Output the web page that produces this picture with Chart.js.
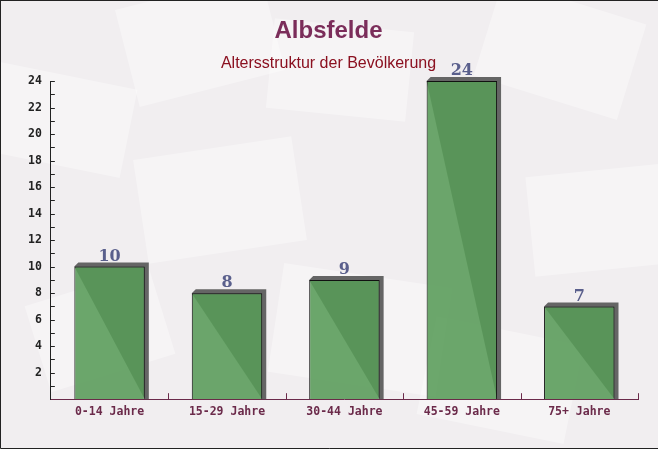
<!DOCTYPE html>
<html>
<head>
<meta charset="utf-8">
<script src="https://cdn.jsdelivr.net/npm/chart.js@4/dist/chart.umd.min.js"></script>
<style>
  html, body { margin: 0; padding: 0; background: #f2eff1; }
  #wrap { width: 658px; height: 449px; position: relative; }
</style>
</head>
<body>
<div id="wrap"><canvas id="chartAge" width="658" height="449"></canvas></div>
<script>
const ageGroups = ["0-14 Jahre", "15-29 Jahre", "30-44 Jahre", "45-59 Jahre", "75+ Jahre"];
const population = [10, 8, 9, 24, 7];
const yTickLabels = [2, 4, 6, 8, 10, 12, 14, 16, 18, 20, 22, 24];

const chartAgeElement = document.querySelector("#chartAge");

// faint envelope-ish background pattern + frame
const backgroundPlugin = {
  id: "backgroundPattern",
  beforeDraw(chart) {
    const ctx = chart.ctx;
    ctx.save();
    ctx.fillStyle = "#f1eef0";
    ctx.fillRect(0, 0, chart.width, chart.height);
    const shapes = [
      [200, 40, 150, 100, -0.25], [560, 50, 150, 100, 0.3], [60, 120, 140, 90, 0.2],
      [220, 200, 160, 105, -0.15], [600, 220, 140, 100, -0.1], [360, 330, 170, 110, 0.15],
      [100, 330, 130, 90, -0.3], [500, 380, 150, 100, 0.2], [340, 70, 140, 90, 0.1]
    ];
    ctx.fillStyle = "rgba(255,255,255,0.35)";
    shapes.forEach(([x, y, w, h, a]) => {
      ctx.save();
      ctx.translate(x, y);
      ctx.rotate(a);
      ctx.fillRect(-w / 2, -h / 2, w, h);
      ctx.restore();
    });
    ctx.restore();
  },
  afterDraw(chart) {
    const ctx = chart.ctx;
    ctx.save();
    ctx.strokeStyle = "#222";
    ctx.lineWidth = 1;
    ctx.beginPath();
    ctx.moveTo(0.5, 0);
    ctx.lineTo(0.5, chart.height - 0.5);
    ctx.lineTo(chart.width, chart.height - 0.5);
    ctx.moveTo(0, 0.5);
    ctx.lineTo(chart.width, 0.5);
    ctx.stroke();
    ctx.restore();
  }
};

// 3D shadow behind each bar, value labels above
const barShadowPlugin = {
  id: "barShadow",
  beforeDatasetsDraw(chart) {
    const ctx = chart.ctx;
    const meta = chart.getDatasetMeta(0);
    ctx.save();
    ctx.fillStyle = "rgba(85,85,85,0.9)";
    meta.data.forEach((bar) => {
      const half = bar.width / 2;
      const d = 4;
      ctx.beginPath();
      ctx.moveTo(bar.x - half, bar.y);
      ctx.lineTo(bar.x - half + d, bar.y - d);
      ctx.lineTo(bar.x + half + d, bar.y - d);
      ctx.lineTo(bar.x + half + d, bar.base);
      ctx.lineTo(bar.x + half, bar.base);
      ctx.closePath();
      ctx.fill();
    });
    ctx.restore();
  },
  afterDatasetsDraw(chart) {
    const ctx = chart.ctx;
    const meta = chart.getDatasetMeta(0);
    ctx.save();
    ctx.font = "bold 16px 'DejaVu Serif'";
    ctx.fillStyle = "#5a5f8c";
    ctx.textAlign = "center";
    ctx.textBaseline = "bottom";
    meta.data.forEach((bar, i) => {
      ctx.fillText(population[i], bar.x, bar.y - 2);
    });
    ctx.restore();
  }
};

// inward ticks on both axes
const innerTicksPlugin = {
  id: "innerTicks",
  afterDraw(chart) {
    const ctx = chart.ctx;
    const area = chart.chartArea;
    const y = chart.scales.y;
    const x = chart.scales.x;
    ctx.save();
    ctx.lineWidth = 1;
    ctx.strokeStyle = "#222";
    ctx.beginPath();
    for (let v = 1; v <= 24; v++) {
      const py = Math.round(y.getPixelForValue(v)) + 0.5;
      ctx.moveTo(area.left, py);
      ctx.lineTo(area.left + 4, py);
    }
    ctx.stroke();
    ctx.strokeStyle = "#6b2a4a";
    ctx.beginPath();
    for (let i = 0; i < ageGroups.length; i++) {
      const next = i < ageGroups.length - 1
        ? x.getPixelForValue(i + 1)
        : 2 * x.getPixelForValue(i) - x.getPixelForValue(i - 1);
      const px = Math.round((x.getPixelForValue(i) + next) / 2) + 0.5;
      ctx.moveTo(px, area.bottom);
      ctx.lineTo(px, area.bottom - 6);
    }
    ctx.stroke();
    ctx.restore();
  }
};

const chartAge = new Chart(chartAgeElement, {
  type: "bar",
  data: {
    labels: ageGroups,
    datasets: [
      {
        label: "Einwohner",
        data: population,
        backgroundColor: "rgba(88,155,88,0.88)",
        borderColor: "#111",
        borderWidth: 1,
        borderSkipped: "bottom",
        barPercentage: 0.6,
        categoryPercentage: 1,
      },
    ],
  },
  options: {
    responsive: false,
    animation: false,
    layout: {
      padding: { left: 19, right: 20, top: 0, bottom: 24 },
    },
    plugins: {
      legend: { display: false },
      tooltip: { enabled: false },
      title: {
        display: true,
        text: "Albsfelde",
        color: "#7b2d5a",
        font: { family: "'Liberation Sans'", size: 24, weight: "bold" },
        padding: { top: 17, bottom: 8 },
      },
      subtitle: {
        display: true,
        text: "Altersstruktur der Bevölkerung",
        color: "#8b1020",
        font: { family: "'Liberation Sans'", size: 16 },
        padding: { top: 0, bottom: 8 },
      },
    },
    scales: {
      x: {
        offset: true,
        grid: { display: false, drawTicks: false },
        border: { display: true, color: "#6b2a4a", width: 1 },
        ticks: {
          color: "#6b2a4a",
          font: { family: "'DejaVu Sans Mono'", size: 11.5, weight: "bold" },
          padding: 6,
        },
      },
      y: {
        min: 0,
        max: 24,
        grid: { display: false, drawTicks: false },
        border: { display: true, color: "#222", width: 1 },
        ticks: {
          stepSize: 2,
          color: "#222",
          font: { family: "'DejaVu Sans Mono'", size: 11.5, weight: "bold" },
          padding: 9,
          callback: (value) => (yTickLabels.includes(value) ? value : ""),
        },
      },
    },
  },
  plugins: [backgroundPlugin, barShadowPlugin, innerTicksPlugin],
});
</script>
</body>
</html>
